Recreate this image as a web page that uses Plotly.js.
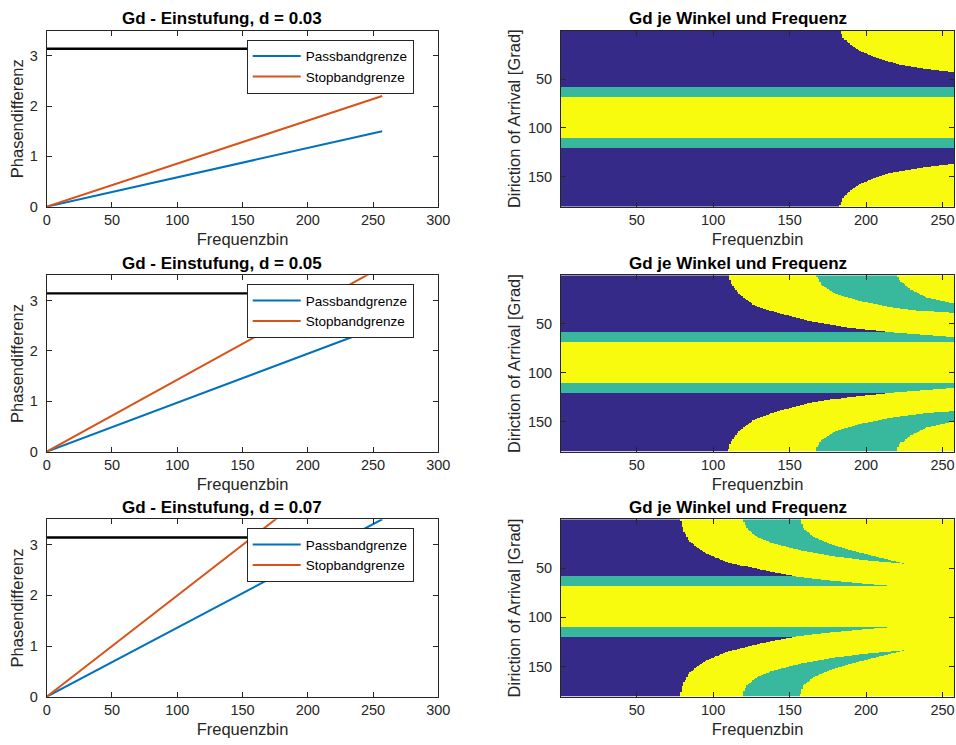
<!DOCTYPE html>
<html><head><meta charset="utf-8">
<script src="https://cdn.plot.ly/plotly-3.0.1.min.js"></script>
<style>html,body{margin:0;padding:0;background:#fff}#chart{width:956px;height:745px}</style>
</head><body><div id="chart"></div>
<script>
// ---------------- line plots: Phasendifferenz über Frequenzbin ----------------
const lineBins  = [0, 257];
const pass_d003 = [0, 1.5];
const stop_d003 = [0, 2.2];
const pass_d005 = [0, 2.5];
const stop_d005 = [0, 3.67];
const pass_d007 = [0, 3.5];
const stop_d007 = [0, 5.13];
const piLine    = [3.1416, 3.1416];

const lineTitles = ['Gd - Einstufung, d = 0.03', 'Gd - Einstufung, d = 0.05', 'Gd - Einstufung, d = 0.07'];
const mapTitle   = 'Gd je Winkel und Frequenz';
const xTicksLeft  = [0, 50, 100, 150, 200, 250, 300];
const yTicksLeft  = [0, 1, 2, 3];
const xTicksRight = [50, 100, 150, 200, 250];
const yTicksRight = [50, 100, 150];

// ---------------- heatmaps: Gd je Winkel und Frequenz ----------------
// classes: 0 = Stopband (blau), 1 = Übergang (türkis), 2 = Passband (gelb)
const nBins = 257, nAngles = 180;
// band rows (upper half; lower half is mirrored)
const bandTealStart = 58.5, bandYellowStart = 68.5;

// boundaries: angle row -> frequency bin
// d = 0.03
const m1_b1_angle = [0.5, 8, 14.9, 21.6, 28.5, 35.4, 39.5, 42.8];
const m1_b1_bin   = [183, 185.3, 189.7, 196.2, 207.2, 222.5, 240, 257.4];
// d = 0.05
const m2_b1_angle = [0.5, 10, 20.2, 30.5, 39.1, 47.6, 54.5, 57.9, 58.5];
const m2_b1_bin   = [110, 112.1, 117.5, 126.3, 141.6, 163.4, 189.7, 212.6, 215];
const m2_b2_angle = [0.5, 10, 18.6, 25.4, 32.2, 37.4, 39.3];
const m2_b2_bin   = [167.4, 171, 179, 193, 214, 239, 257.5];
const m2_b3_angle = [0.5, 6.6, 15.1, 23, 28.8];
const m2_b3_bin   = [220.3, 222.5, 229, 240, 256.4];
const m2_edge_bin   = [214, 235, 257];
const m2_edge_angle = [58.5, 61, 63.5];
// d = 0.07
const m3_b1_angle = [0.5, 11.4, 23.3, 33.4, 43.6, 52, 58.1, 58.5];
const m3_b1_bin   = [78.6, 80.4, 84.8, 93.5, 108.8, 130.7, 151.4, 153];
const m3_b2_angle = [0.5, 9.8, 18.2, 25, 31.7, 37.8, 41.9, 45.3];
const m3_b2_bin   = [119.3, 121.9, 128.5, 139.4, 156.9, 178.7, 200.6, 225.7];
const m3_b3_angle = [0.5, 9.8, 18.2, 25.6, 32.4, 39.2, 45.3];
const m3_b3_bin   = [156.9, 159, 165.6, 176.6, 191.8, 209.3, 225.7];
const m3_edge_bin   = [152, 170, 190, 205, 218];
const m3_edge_angle = [58.5, 62, 65, 67, 68.5];

const mapColors = ['#352a87', '#38b89d', '#f9fb0e'];

function lin(xs, ys, x, outside) {
  if (x <= xs[0]) return ys[0];
  if (x > xs[xs.length - 1]) return outside;
  for (let i = 1; i < xs.length; i++) {
    if (x <= xs[i]) {
      const f = (x - xs[i - 1]) / (xs[i] - xs[i - 1]);
      return ys[i - 1] + f * (ys[i] - ys[i - 1]);
    }
  }
  return outside;
}

function buildMap(b) {
  const z = [];
  for (let r = 1; r <= nAngles; r++) {
    const t = r <= 89 ? r : 179 - r;
    const row = [];
    for (let k = 1; k <= nBins; k++) {
      let v;
      if (t >= bandYellowStart) v = 2;
      else if (t >= bandTealStart) {
        let top = bandTealStart;
        if (b.edgeBin && k >= b.edgeBin[0]) top = lin(b.edgeBin, b.edgeAngle, k, 99);
        v = t >= top ? 1 : 2;
      } else {
        const b1 = lin(b.b1a, b.b1k, t, Infinity);
        if (k < b1) v = 0;
        else {
          const b2 = b.b2a ? lin(b.b2a, b.b2k, t, Infinity) : Infinity;
          const b3 = b.b3a ? lin(b.b3a, b.b3k, t, Infinity) : Infinity;
          v = (k >= b2 && k < b3) ? 1 : 2;
        }
      }
      row.push(v);
    }
    z.push(row);
  }
  return z;
}

const binsAxis = []; for (let k = 1; k <= nBins; k++) binsAxis.push(k);
const anglesAxis = []; for (let a = 1; a <= nAngles; a++) anglesAxis.push(a);

const maps = [
  buildMap({b1a: m1_b1_angle, b1k: m1_b1_bin}),
  buildMap({b1a: m2_b1_angle, b1k: m2_b1_bin, b2a: m2_b2_angle, b2k: m2_b2_bin, b3a: m2_b3_angle, b3k: m2_b3_bin, edgeBin: m2_edge_bin, edgeAngle: m2_edge_angle}),
  buildMap({b1a: m3_b1_angle, b1k: m3_b1_bin, b2a: m3_b2_angle, b2k: m3_b2_bin, b3a: m3_b3_angle, b3k: m3_b3_bin, edgeBin: m3_edge_bin, edgeAngle: m3_edge_angle})
];

const FONT = 'Liberation Sans, Arial, Helvetica, sans-serif';
const AX = '#262626';
const BLUE = '#0072BD', ORANGE = '#D95319';

const passSeries = [pass_d003, pass_d005, pass_d007];
const stopSeries = [stop_d003, stop_d005, stop_d007];
const legendIds = ['legend', 'legend2', 'legend3'];

const traces = [];
for (let i = 0; i < 3; i++) {
  const xa = 'x' + (i === 0 ? '' : (2 * i + 1));
  const ya = 'y' + (i === 0 ? '' : (2 * i + 1));
  traces.push({x: lineBins, y: piLine, xaxis: xa, yaxis: ya, mode: 'lines', line: {color: '#000', width: 2.4}, showlegend: false, hoverinfo: 'skip'});
  traces.push({x: lineBins, y: passSeries[i], xaxis: xa, yaxis: ya, mode: 'lines', name: 'Passbandgrenze', line: {color: BLUE, width: 2}, legend: legendIds[i]});
  traces.push({x: lineBins, y: stopSeries[i], xaxis: xa, yaxis: ya, mode: 'lines', name: 'Stopbandgrenze', line: {color: ORANGE, width: 2}, legend: legendIds[i]});
  const xm = 'x' + (2 * i + 2), ym = 'y' + (2 * i + 2);
  traces.push({type: 'heatmap', x: binsAxis, y: anglesAxis, z: maps[i], xaxis: xm, yaxis: ym,
    zmin: 0, zmax: 2, zsmooth: false, showscale: false,
    colorscale: [[0, mapColors[0]], [0.5, mapColors[1]], [1, mapColors[2]]]});
}

const rowsTop = [30.7, 275.3, 519.3], rowsBot = [206.7, 451.7, 696.7];
const W = 956, H = 745;
const leftDom = [46.7 / W, 438.3 / W], rightDom = [561 / W, 954 / W];
const leftTitleX = 222 / W, rightTitleX = 737.5 / W;

function baseAxis(extra) {
  return Object.assign({
    showline: true, linecolor: AX, linewidth: 1, mirror: 'ticks',
    ticks: 'inside', ticklen: 5, tickcolor: AX, tickwidth: 1,
    showgrid: false, zeroline: false,
    tickfont: {family: FONT, size: 14.5, color: AX}
  }, extra);
}

const layout = {
  width: W, height: H, margin: {l: 0, r: 0, t: 0, b: 0},
  paper_bgcolor: '#fff', plot_bgcolor: '#fff',
  font: {family: FONT, color: AX},
  annotations: [],
  showlegend: true
};

for (let i = 0; i < 3; i++) {
  const dom = [1 - rowsBot[i] / H, 1 - rowsTop[i] / H];
  const nL = 2 * i + 1, nR = 2 * i + 2;
  const sx = n => n === 1 ? '' : String(n);
  layout['xaxis' + sx(nL)] = baseAxis({domain: leftDom, anchor: 'y' + sx(nL), range: [0, 300], tickvals: xTicksLeft,
    title: {text: 'Frequenzbin', font: {family: FONT, size: 16.5, color: AX}, standoff: 6}});
  layout['yaxis' + sx(nL)] = baseAxis({domain: dom, anchor: 'x' + sx(nL), range: [0, 3.5], tickvals: yTicksLeft, ticklabelstandoff: 5,
    title: {text: 'Phasendifferenz', font: {family: FONT, size: 16.5, color: AX}, standoff: 1}});
  layout['xaxis' + nR] = baseAxis({domain: rightDom, anchor: 'y' + nR, range: [0.5, 257.5], tickvals: xTicksRight,
    title: {text: 'Frequenzbin', font: {family: FONT, size: 16.5, color: AX}, standoff: 6}});
  layout['yaxis' + nR] = baseAxis({domain: dom, anchor: 'x' + nR, range: [180.5, 0.5], tickvals: yTicksRight, ticklabelstandoff: 5,
    title: {text: 'Diriction of Arrival [Grad]', font: {family: FONT, size: 16.5, color: AX}, standoff: 3}});

  layout[legendIds[i]] = {
    x: 246.7 / W, xanchor: 'left', y: 1 - (rowsTop[i] + 9) / H, yanchor: 'top',
    bgcolor: '#fff', bordercolor: AX, borderwidth: 1, itemwidth: 48,
    font: {family: FONT, size: 13.5, color: '#000'}, tracegroupgap: 0
  };

  const ty = 1 - (rowsTop[i] - 12) / H;
  layout.annotations.push({xref: 'paper', yref: 'paper', x: leftTitleX, y: ty, yanchor: 'middle', xanchor: 'center',
    text: '<b>' + lineTitles[i] + '</b>', showarrow: false, font: {family: FONT, size: 17, color: '#000'}});
  layout.annotations.push({xref: 'paper', yref: 'paper', x: rightTitleX, y: ty, yanchor: 'middle', xanchor: 'center',
    text: '<b>' + mapTitle + '</b>', showarrow: false, font: {family: FONT, size: 17, color: '#000'}});
}

Plotly.newPlot('chart', traces, layout, {staticPlot: true, displayModeBar: false});
</script>
</body></html>
